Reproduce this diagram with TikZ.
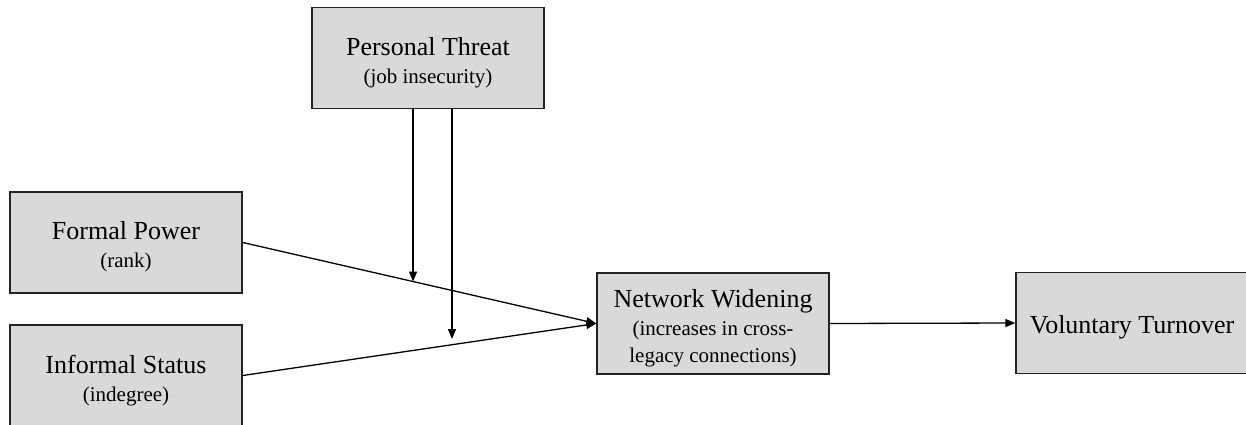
\documentclass[tikz,border=0pt]{standalone}
\usepackage{fontspec}
\setmainfont{Liberation Serif}
\usetikzlibrary{arrows.meta,calc}
\definecolor{boxfill}{RGB}{217,217,217}
\definecolor{edgecol}{RGB}{35,35,35}
\newcommand{\subtxt}[1]{{\fontsize{21}{28}\selectfont #1}}
\begin{document}
\begin{tikzpicture}[x=1pt,y=-1pt,
  box/.style={draw=edgecol,line width=1.4pt,fill=boxfill,minimum width=232pt,minimum height=101pt,inner sep=0pt},
  txt/.style={inner sep=0pt,align=center,font=\fontsize{26}{28}\selectfont},
  arr/.style={draw=black,line width=1.3pt,-{Triangle[length=10pt,width=8pt]}}]
\useasboundingbox (0,0) rectangle (1246,425);
\clip (0,0) rectangle (1246,425);
\node[box] (PT) at (428,58) {};
\node[box] (FP) at (126,242.5) {};
\node[box] (IS) at (126,375.5) {};
\node[box] (NW) at (713,323.5) {};
\node[box] (VT) at (1132,323) {};
\node[txt] (PTt) at ([yshift=-5pt]PT.center) {Personal Threat\\\subtxt{(job insecurity)}};
\node[txt] (FPt) at ([yshift=-4.5pt]FP.center) {Formal Power\\\subtxt{(rank)}};
\node[txt] (ISt) at ([yshift=-5pt]IS.center) {Informal Status\\\subtxt{(indegree)}};
\node[txt] (NWt) at ([yshift=-5pt]NW.center) {Network Widening\\\subtxt{(increases in cross-}\\[-1pt]\subtxt{legacy connections)}};
\node[txt] (VTt) at ([yshift=-4pt]VT.center) {Voluntary Turnover};
\draw[arr] (FP.east) -- (NW.west);
\draw[arr] (IS.east) -- (NW.west);
\draw[arr] (NW.east) -- (VT.west);
\coordinate (m1) at ($(FP.east)!0.4817!(NW.west)$);
\coordinate (m2) at (452,339);
\draw[arr] (PT.south -| m1) -- (m1);
\draw[arr] (PT.south -| m2) -- (m2);
\end{tikzpicture}
\end{document}
